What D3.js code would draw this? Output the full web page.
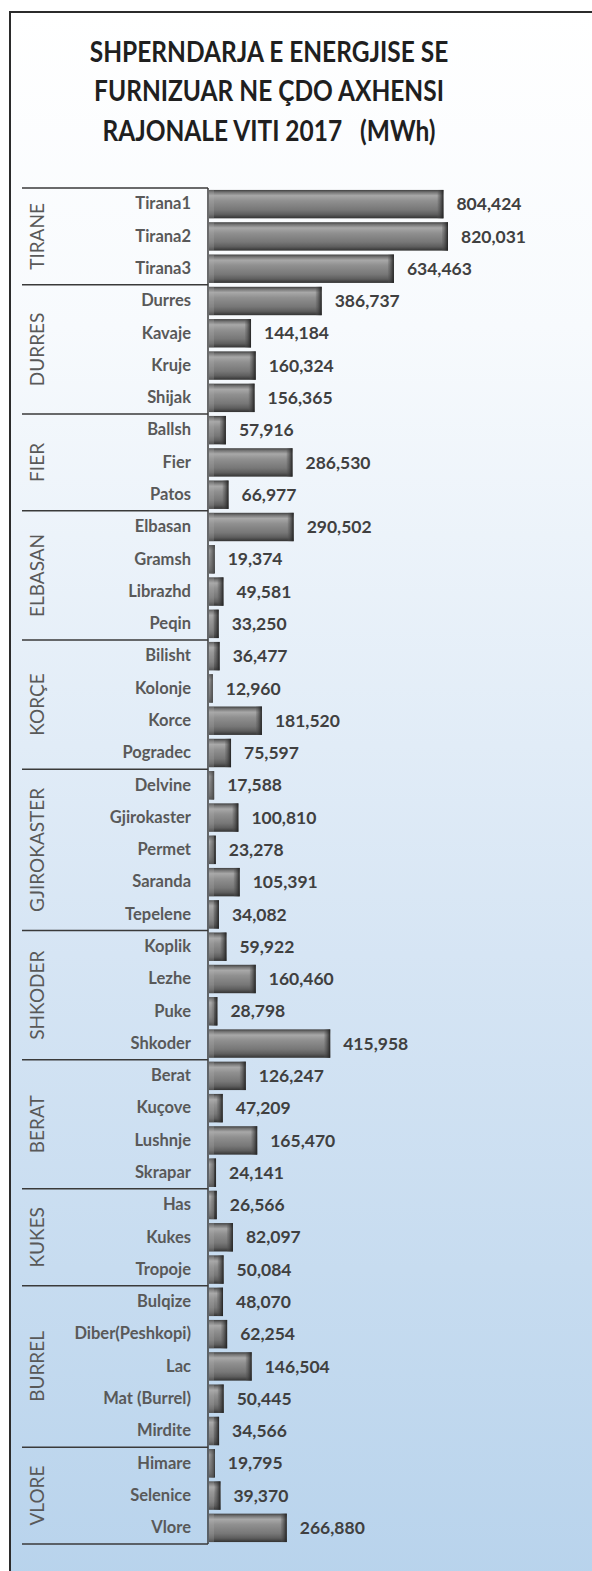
<!DOCTYPE html>
<html>
<head>
<meta charset="utf-8">
<script src="https://cdn.jsdelivr.net/npm/d3@7"></script>
<style>
  body { margin: 0; background: #fff; }
  svg { display: block; }
  text { white-space: pre; }
</style>
</head>
<body>
<svg id="chart"></svg>
<script>
// data
const titleLines = ["SHPERNDARJA E ENERGJISE SE", "FURNIZUAR NE ÇDO AXHENSI", "RAJONALE VITI 2017   (MWh)"];
const regions = ["TIRANE", "DURRES", "FIER", "ELBASAN", "KORÇE", "GJIROKASTER", "SHKODER", "BERAT", "KUKES", "BURREL", "VLORE"];
const regionCounts = [3, 4, 3, 4, 4, 5, 4, 4, 3, 5, 3];
const categories = [
  "Tirana1", "Tirana2", "Tirana3",
  "Durres", "Kavaje", "Kruje", "Shijak",
  "Ballsh", "Fier", "Patos",
  "Elbasan", "Gramsh", "Librazhd", "Peqin",
  "Bilisht", "Kolonje", "Korce", "Pogradec",
  "Delvine", "Gjirokaster", "Permet", "Saranda", "Tepelene",
  "Koplik", "Lezhe", "Puke", "Shkoder",
  "Berat", "Kuçove", "Lushnje", "Skrapar",
  "Has", "Kukes", "Tropoje",
  "Bulqize", "Diber(Peshkopi)", "Lac", "Mat (Burrel)", "Mirdite",
  "Himare", "Selenice", "Vlore"
];
const values = [
  804424, 820031, 634463,
  386737, 144184, 160324, 156365,
  57916, 286530, 66977,
  290502, 19374, 49581, 33250,
  36477, 12960, 181520, 75597,
  17588, 100810, 23278, 105391, 34082,
  59922, 160460, 28798, 415958,
  126247, 47209, 165470, 24141,
  26566, 82097, 50084,
  48070, 62254, 146504, 50445, 34566,
  19795, 39370, 266880
];

const W = 592, H = 1571;
const axisX = 208, plotTop = 188, plotBottom = 1544;
const fontFam = "Lato, 'Open Sans', sans-serif";

const svg = d3.select("#chart").attr("width", W).attr("height", H);
const defs = svg.append("defs");

// background gradient
const bg = defs.append("linearGradient").attr("id", "bg").attr("x1", 0).attr("y1", 0).attr("x2", 0).attr("y2", 1);
bg.append("stop").attr("offset", "0%").attr("stop-color", "#ffffff");
bg.append("stop").attr("offset", "20%").attr("stop-color", "#f7fafd");
bg.append("stop").attr("offset", "60%").attr("stop-color", "#d6e5f4");
bg.append("stop").attr("offset", "100%").attr("stop-color", "#b8d3ec");

// bar bevel gradient
const bar = defs.append("linearGradient").attr("id", "barGrad").attr("x1", 0).attr("y1", 0).attr("x2", 0).attr("y2", 1);
[["0%", "#404040"], ["8%", "#737373"], ["20%", "#a8a8a8"], ["38%", "#909090"], ["70%", "#777777"], ["86%", "#5e5e5e"], ["100%", "#333333"]]
  .forEach(s => bar.append("stop").attr("offset", s[0]).attr("stop-color", s[1]));
const cap = defs.append("linearGradient").attr("id", "capGrad").attr("x1", 0).attr("y1", 0).attr("x2", 1).attr("y2", 0);
cap.append("stop").attr("offset", "0%").attr("stop-color", "#555").attr("stop-opacity", 0.2);
cap.append("stop").attr("offset", "100%").attr("stop-color", "#1e1e1e").attr("stop-opacity", 0.95);

svg.append("rect").attr("x", 10).attr("y", 12).attr("width", W).attr("height", H)
  .attr("fill", "url(#bg)").attr("stroke", "#2b2b2b").attr("stroke-width", 2);

// title (squeezed horizontally to mimic the narrow original face)
svg.append("g").attr("transform", "translate(269,0) scale(0.875,1)")
  .selectAll("text").data(titleLines).join("text")
  .attr("x", 0).attr("y", (d, i) => 62 + i * 39.5)
  .attr("text-anchor", "middle")
  .attr("font-family", fontFam).attr("font-weight", 700).attr("font-size", 28)
  .attr("fill", "#1f1f1f")
  .text(d => d);

// scales
const y = d3.scaleBand().domain(d3.range(categories.length)).range([plotTop, plotBottom]).paddingInner(0.12).paddingOuter(0.06);
const x = d3.scaleLinear().domain([0, 820031]).range([axisX + 1, axisX + 1 + 239]);
const fmt = d3.format(",");

// category axis
const yAxis = d3.axisLeft(y).tickSize(0).tickPadding(17).tickFormat(i => categories[i]);
const ax = svg.append("g").attr("transform", `translate(${axisX},0)`).call(yAxis);
ax.select(".domain").remove();
ax.selectAll("text").attr("font-family", fontFam).attr("font-weight", 700).attr("font-size", 16.5).attr("fill", "#595959");
svg.append("line").attr("x1", axisX).attr("x2", axisX).attr("y1", plotTop).attr("y2", plotBottom)
  .attr("stroke", "#3a3a3a").attr("stroke-width", 1.5);

// region separators & labels
const step = (plotBottom - plotTop) / categories.length;
let start = 0;
const regionRows = regions.map((r, i) => { const o = { name: r, start, end: start + regionCounts[i] }; start += regionCounts[i]; return o; });
const edges = [0].concat(regionRows.map(r => r.end));
svg.append("g").selectAll("line").data(edges).join("line")
  .attr("x1", 22).attr("x2", axisX)
  .attr("y1", d => plotTop + d * step).attr("y2", d => plotTop + d * step)
  .attr("stroke", "#3a3a3a").attr("stroke-width", 1.5);
svg.append("g").selectAll("text").data(regionRows).join("text")
  .attr("transform", d => `translate(44,${plotTop + (d.start + d.end) / 2 * step}) rotate(-90)`)
  .attr("text-anchor", "middle")
  .attr("font-family", fontFam).attr("font-weight", 400).attr("font-size", 19)
  .attr("fill", "#595959")
  .text(d => d.name);

// bars
const bars = svg.append("g").selectAll("g").data(values).join("g");
bars.append("rect")
  .attr("x", x(0)).attr("y", (d, i) => y(i))
  .attr("width", d => x(d) - x(0)).attr("height", y.bandwidth())
  .attr("fill", "url(#barGrad)");
bars.append("rect")
  .attr("x", d => Math.max(x(0), x(d) - 6)).attr("y", (d, i) => y(i))
  .attr("width", d => Math.min(6, x(d) - x(0))).attr("height", y.bandwidth())
  .attr("fill", "url(#capGrad)");
bars.append("rect")
  .attr("x", x(0)).attr("y", (d, i) => y(i))
  .attr("width", d => Math.min(5, x(d) - x(0))).attr("height", y.bandwidth())
  .attr("fill", "#b0b0b0").attr("opacity", 0.25);

// value labels
svg.append("g").selectAll("text").data(values).join("text")
  .attr("x", d => x(d) + 13).attr("y", (d, i) => y(i) + y.bandwidth() / 2)
  .attr("dy", "0.35em")
  .attr("font-family", fontFam).attr("font-weight", 700).attr("font-size", 17.5)
  .attr("fill", "#404040")
  .text(d => fmt(d));
</script>
</body>
</html>
